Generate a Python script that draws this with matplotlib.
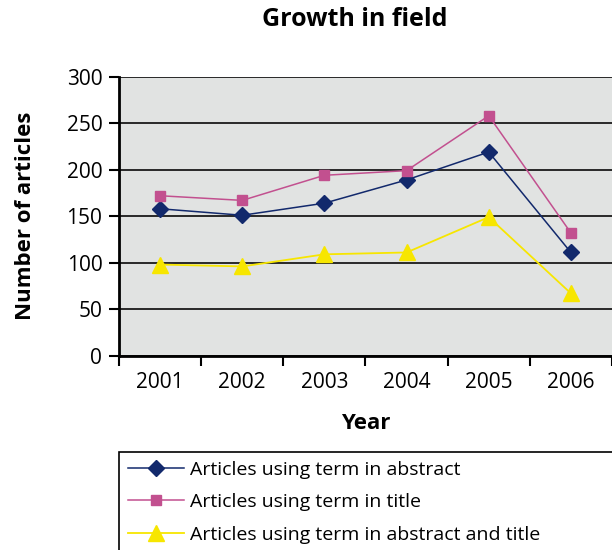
import numpy as np
import matplotlib.pyplot as plt

plt.rcParams['font.family'] = ['Open Sans', 'DejaVu Sans']

# Data
# -----------------------
years = ['2001', '2002', '2003', '2004', '2005', '2006']
abstract = [158, 151, 164, 189, 219, 111]
title = [172, 167, 194, 199, 258, 132]
both = [98, 96, 109, 111, 149, 67]
labels = ['Articles using term in abstract',
          'Articles using term in title',
          'Articles using term in abstract and title']

navy = '#12296C'
pink = '#C2508F'
yellow = '#F7E600'

fig = plt.figure(figsize=(6.12, 5.5), dpi=100)
ax = fig.add_axes([119 / 612, 1 - 355.7 / 550, 493 / 612, 279 / 550])
ax.set_facecolor('#E1E3E2')

x = np.arange(len(years))
ax.plot(x, abstract, color=navy, marker='D', markersize=8.5, linewidth=1.1, label=labels[0], zorder=4)
ax.plot(x, title, color=pink, marker='s', markersize=7.5, linewidth=1.1, label=labels[1], zorder=4)
ax.plot(x, both, color=yellow, marker='^', markersize=12, linewidth=1.3, label=labels[2], zorder=4)

# Axes and grid
# -------------
ax.set_xlim(-0.5, 5.5)
ax.set_ylim(0, 300)
ax.set_yticks(np.arange(0, 301, 50))
ax.set_xticks(x)
ax.set_xticklabels(years)
ax.set_xticks(np.arange(-0.5, 5.6, 1), minor=True)
ax.yaxis.grid(True, color='#1a1a1a', linewidth=1.3)
ax.set_axisbelow(True)
ax.tick_params(axis='x', which='major', length=0, pad=12, labelsize=15)
ax.tick_params(axis='x', which='minor', length=7, width=1.5, direction='out')
ax.tick_params(axis='y', length=7, width=1.5, direction='out', labelsize=15, pad=5)
for side in ['top', 'right']:
    ax.spines[side].set_visible(False)
for side in ['left', 'bottom']:
    ax.spines[side].set_linewidth(2)

ax.set_ylabel('Number of articles', fontsize=16, fontweight='bold', labelpad=22)
ax.set_xlabel('Year', fontsize=16, fontweight='bold', labelpad=14)
fig.text(355 / 612, 1 - 20 / 550, 'Growth in field', fontsize=18, fontweight='bold',
         ha='center', va='center')

leg = fig.legend(loc='upper left', bbox_to_anchor=(119 / 612, 0, 520 / 612, 1 - 452 / 550),
                 mode='expand', borderaxespad=0, fontsize=14, handlelength=2.9,
                 labelspacing=0.74, borderpad=0.45, handletextpad=0.3, fancybox=False,
                 framealpha=1, edgecolor='black')
leg.get_frame().set_linewidth(1.2)

plt.savefig('out.png', dpi=100)
